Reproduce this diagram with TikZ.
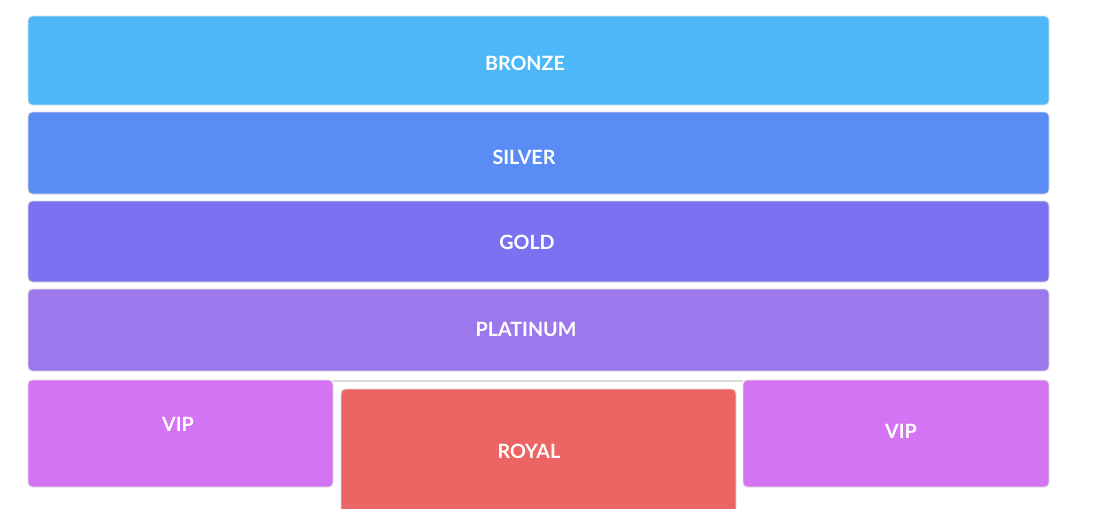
\documentclass[tikz,border=0pt]{standalone}
\usepackage{fontspec}
\setmainfont{Lato}
\usepackage{xcolor}
\usepackage{tikz}
\definecolor{bronzeblue}{RGB}{77,184,248}
\definecolor{silverblue}{RGB}{90,140,245}
\definecolor{goldviolet}{RGB}{123,114,242}
\definecolor{platinumlilac}{RGB}{157,120,236}
\definecolor{vippink}{RGB}{213,116,242}
\definecolor{royalred}{RGB}{236,100,100}
\tikzset{
  tier/.style={draw=black!12, line width=0.6pt, rounded corners=3pt},
  tiertext/.style={text=white, font=\bfseries\fontsize{14}{16}\selectfont}
}

\begin{document}
\begin{tikzpicture}[x=0.025cm, y=-0.025cm]
\useasboundingbox (0,0) rectangle (1100,508);
% seating tiers
\draw[tier, fill=bronzeblue] (28,16) rectangle (1049,105);
\node[tiertext] (bronze) at (525,63) {BRONZE};
\draw[tier, fill=silverblue] (28,112) rectangle (1049,194);
\node[tiertext] (silver) at (524,157) {SILVER};
\draw[tier, fill=goldviolet] (28,201) rectangle (1049,282);
\node[tiertext] (gold) at (527,242) {GOLD};
\draw[tier, fill=platinumlilac] (28,289) rectangle (1049,371);
\node[tiertext] (platinum) at (526,329) {PLATINUM};
% front row
\draw[black!15, line width=1pt] (333,381) -- (743,381);
\draw[tier, fill=vippink] (28,380) rectangle (333,487);
\node[tiertext] (vipleft) at (178,424) {VIP};
\draw[tier, fill=vippink] (743,380) rectangle (1049,487);
\node[tiertext] (vipright) at (901,431) {VIP};
\draw[tier, fill=royalred] (341,389) rectangle (736,520);
\node[tiertext] (royal) at (529,451) {ROYAL};
\end{tikzpicture}
\end{document}
